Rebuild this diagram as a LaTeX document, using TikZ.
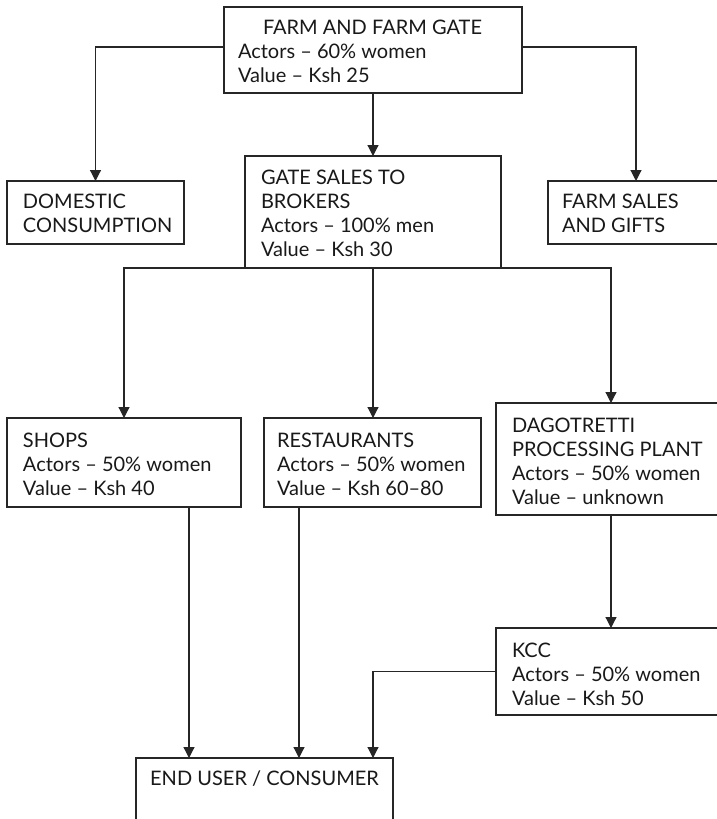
\documentclass[tikz,border=0pt]{standalone}
\usepackage{fontspec}
\setmainfont{Lato}
\usetikzlibrary{arrows.meta}
\begin{document}
\begin{tikzpicture}[x=1pt, y=-1pt,
  box/.style={draw=black!85, line width=1.2pt, inner sep=0pt, outer sep=0pt, anchor=north west},
  txt/.style={anchor=north west, inner sep=0pt, outer sep=0pt, align=left, text=black!90,
              font=\fontsize{20}{24}\selectfont},
  link/.style={draw=black!85, line width=1.2pt},
  arrow/.style={link, -{Triangle[width=11pt,length=11pt]}}]
  \useasboundingbox[fill=white] (0,0) rectangle (716,819);

  % boxes
  \node[box, minimum width=298pt, minimum height=86pt]  (farm)  at (224,7)   {};
  \node[box, minimum width=177pt, minimum height=63pt]  (dom)   at (7,181)   {};
  \node[box, minimum width=256pt, minimum height=112pt] (gate)  at (245,156) {};
  \node[box, minimum width=176pt, minimum height=63pt]  (sales) at (548,181) {};
  \node[box, minimum width=234pt, minimum height=89pt]  (shops) at (7,418)   {};
  \node[box, minimum width=217pt, minimum height=89pt]  (rest)  at (264,418) {};
  \node[box, minimum width=230pt, minimum height=112pt] (dago)  at (496,403) {};
  \node[box, minimum width=230pt, minimum height=87pt]  (kcc)   at (496,628) {};
  \node[box, minimum width=257pt, minimum height=90pt]  (end)   at (136,758) {};

  % labels
  \node[txt] (farmT)  at (238,20)  {\hspace*{25pt}FARM AND FARM GATE\\Actors – 60\% women\\Value – Ksh 25};
  \node[txt] (domT)   at (23,194.5) {DOMESTIC\\CONSUMPTION};
  \node[txt] (gateT)  at (261,170) {GATE SALES TO\\BROKERS\\Actors – 100\% men\\Value – Ksh 30};
  \node[txt] (salesT) at (562,194.5) {FARM SALES\\AND GIFTS};
  \node[txt] (shopsT) at (23,433)  {SHOPS\\Actors – 50\% women\\Value – Ksh 40};
  \node[txt] (restT)  at (277,433) {RESTAURANTS\\Actors – 50\% women\\Value – Ksh 60–80};
  \node[txt] (dagoT)  at (512,418) {DAGOTRETTI\\PROCESSING PLANT\\Actors – 50\% women\\Value – unknown};
  \node[txt] (kccT)   at (512,643) {KCC\\Actors – 50\% women\\Value – Ksh 50};
  \node[txt, anchor=north] (endT) at (264.5,771) {END USER / CONSUMER};

  % connectors from the farm
  \draw[arrow] ([yshift=3pt]farm.west) -| (dom.north);
  \draw[arrow] ([yshift=3pt]farm.east) -| (sales.north);
  \draw[arrow] (farm.south) -- (farm.south |- gate.north);

  % connectors from the brokers
  \draw[arrow] (gate.south) -- (gate.south |- rest.north);
  \draw[arrow] (gate.south) -| (shops.north);
  \draw[arrow] (gate.south) -| (dago.north);
  \draw[arrow] (dago.south) -- (kcc.north);

  % connectors to the end user
  \coordinate (shopsOut) at ([xshift=65pt]shops.south);
  \coordinate (restOut)  at ([xshift=-73.5pt]rest.south);
  \coordinate (endIn)    at ([xshift=108.5pt]end.north);
  \draw[arrow] (shopsOut) -- (shopsOut |- end.north);
  \draw[arrow] (restOut) -- (restOut |- end.north);
  \draw[arrow] (kcc.west) -| (endIn);
\end{tikzpicture}
\end{document}
